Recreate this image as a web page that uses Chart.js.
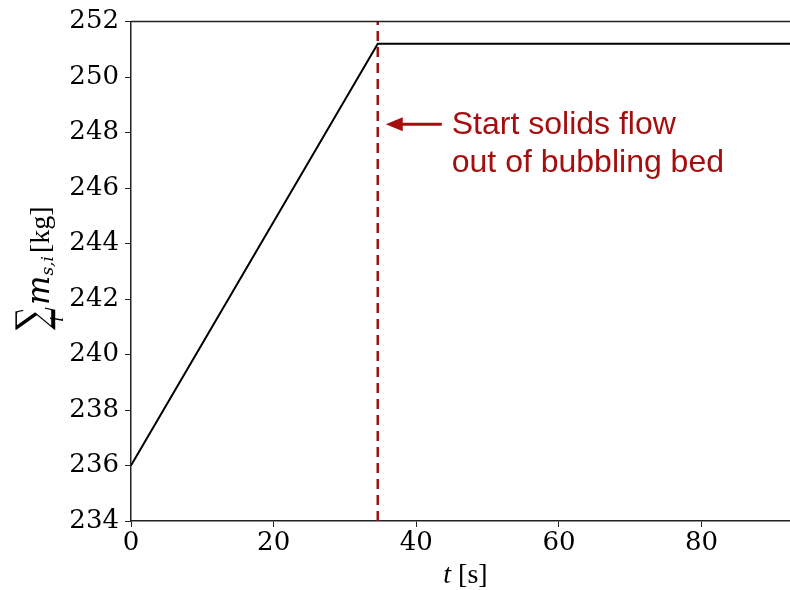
<!DOCTYPE html>
<html>
<head>
<meta charset="utf-8">
<script src="https://cdn.jsdelivr.net/npm/chart.js@4.4.1/dist/chart.umd.min.js"></script>
<style>
  html, body { margin: 0; padding: 0; background: #ffffff; }
  #wrap { width: 790px; height: 590px; position: relative; }
</style>
</head>
<body>
<div id="wrap"><canvas id="massChart"></canvas></div>
<script>
// Total solids mass in the bed over time
const timeS = [0, 34.6, 94];
const massKg = [236, 251.2, 251.2];

// Moment the solids start to leave the bubbling bed
const flowStartS = [34.6, 34.6];
const flowStartY = [234, 252];

const yTicks = [234, 236, 238, 240, 242, 244, 246, 248, 250, 252];
const xTicks = [0, 20, 40, 60, 80];
const noteLines = ['Start solids flow', 'out of bubbling bed'];

const RED = '#a50e0e';
const SERIF = "'DejaVu Serif', serif";
const TIMES = "'Liberation Serif', serif";

// Frame, axis titles and the arrow annotation
const decorPlugin = {
    id: 'decor',
    afterDraw(chart) {
        const ctx = chart.ctx;
        const area = chart.chartArea;
        const xs = chart.scales.x;
        const ys = chart.scales.y;
        ctx.save();

        // top spine
        ctx.strokeStyle = '#222';
        ctx.lineWidth = 1.5;
        ctx.beginPath();
        ctx.moveTo(area.left, area.top);
        ctx.lineTo(area.right, area.top);
        ctx.stroke();

        // x title: t [s]
        ctx.fillStyle = '#000';
        ctx.textBaseline = 'alphabetic';
        const cx = (area.left + area.right) / 2 + 5;
        ctx.font = "italic 28px " + TIMES;
        const tW = ctx.measureText('t ').width;
        ctx.font = "28px " + TIMES;
        const sW = ctx.measureText('[s]').width;
        let x0 = cx - (tW + sW) / 2;
        ctx.font = "italic 28px " + TIMES;
        ctx.fillText('t', x0, 583);
        ctx.font = "28px " + TIMES;
        ctx.fillText('[s]', x0 + tW, 583);

        // y title: sum_i m_{s,i} [kg], written upwards
        ctx.translate(49, 330);
        ctx.rotate(-Math.PI / 2);
        ctx.save();
        ctx.font = "44px " + SERIF;
        const gW = ctx.measureText('\u2211').width;
        ctx.scale(23 / gW, 1);
        ctx.fillText('\u2211', 0, -2);
        ctx.restore();
        ctx.font = "italic 19px " + TIMES;
        ctx.fillText('i', 8, 14);
        ctx.font = "italic 31px " + SERIF;
        ctx.fillText('m', 25, 0);
        const mW = ctx.measureText('m').width;
        ctx.font = "italic 17px " + SERIF;
        ctx.fillText('s,i', 25 + mW, 4);
        ctx.font = "28px " + TIMES;
        ctx.fillText('[kg]', 77, 0);
        ctx.setTransform(1, 0, 0, 1, 0, 0);

        // arrow pointing at the dashed line
        const tipX = xs.getPixelForValue(flowStartS[0]) + 8;
        const ay = ys.getPixelForValue(248.3);
        ctx.strokeStyle = RED;
        ctx.fillStyle = RED;
        ctx.lineWidth = 3;
        ctx.beginPath();
        ctx.moveTo(tipX + 14, ay);
        ctx.lineTo(tipX + 56, ay);
        ctx.stroke();
        ctx.beginPath();
        ctx.moveTo(tipX, ay);
        ctx.lineTo(tipX + 17, ay - 7);
        ctx.lineTo(tipX + 17, ay + 7);
        ctx.closePath();
        ctx.fill();

        ctx.font = "32px 'Liberation Sans', Arial, sans-serif";
        ctx.textBaseline = 'middle';
        ctx.fillText(noteLines[0], tipX + 66, ay + 1);
        ctx.fillText(noteLines[1], tipX + 66, ay + 39);
        ctx.restore();
    }
};

new Chart(document.getElementById('massChart'), {
    type: 'line',
    data: {
        datasets: [
            {
                label: 'mass',
                data: timeS.map((t, i) => ({ x: t, y: massKg[i] })),
                borderColor: '#000',
                borderWidth: 2,
                pointRadius: 0,
                tension: 0
            },
            {
                label: 'flow start',
                data: flowStartS.map((t, i) => ({ x: t, y: flowStartY[i] })),
                borderColor: RED,
                borderWidth: 2.5,
                borderDash: [10, 6],
                pointRadius: 0
            }
        ]
    },
    options: {
        responsive: true,
        maintainAspectRatio: false,
        animation: false,
        layout: { padding: { top: 20, right: 0, bottom: 0, left: 0 } },
        plugins: {
            legend: { display: false },
            tooltip: { enabled: false }
        },
        scales: {
            x: {
                type: 'linear',
                min: 0,
                max: 92.4,
                afterFit: s => { s.height = 69; },
                afterBuildTicks: s => { s.ticks = xTicks.map(v => ({ value: v })); },
                ticks: {
                    color: '#000',
                    font: { family: SERIF, size: 26 },
                    padding: 1,
                    maxRotation: 0
                },
                grid: { drawOnChartArea: false, drawTicks: true, tickLength: 6, color: '#222' },
                border: { color: '#222', width: 1.5 }
            },
            y: {
                min: 234,
                max: 252,
                afterFit: s => { s.width = 131; },
                afterBuildTicks: s => { s.ticks = yTicks.map(v => ({ value: v })); },
                ticks: {
                    color: '#000',
                    font: { family: SERIF, size: 26 },
                    padding: 6
                },
                grid: { drawOnChartArea: false, drawTicks: true, tickLength: 6, color: '#222' },
                border: { color: '#222', width: 1.5 }
            }
        }
    },
    plugins: [decorPlugin]
});
</script>
</body>
</html>
